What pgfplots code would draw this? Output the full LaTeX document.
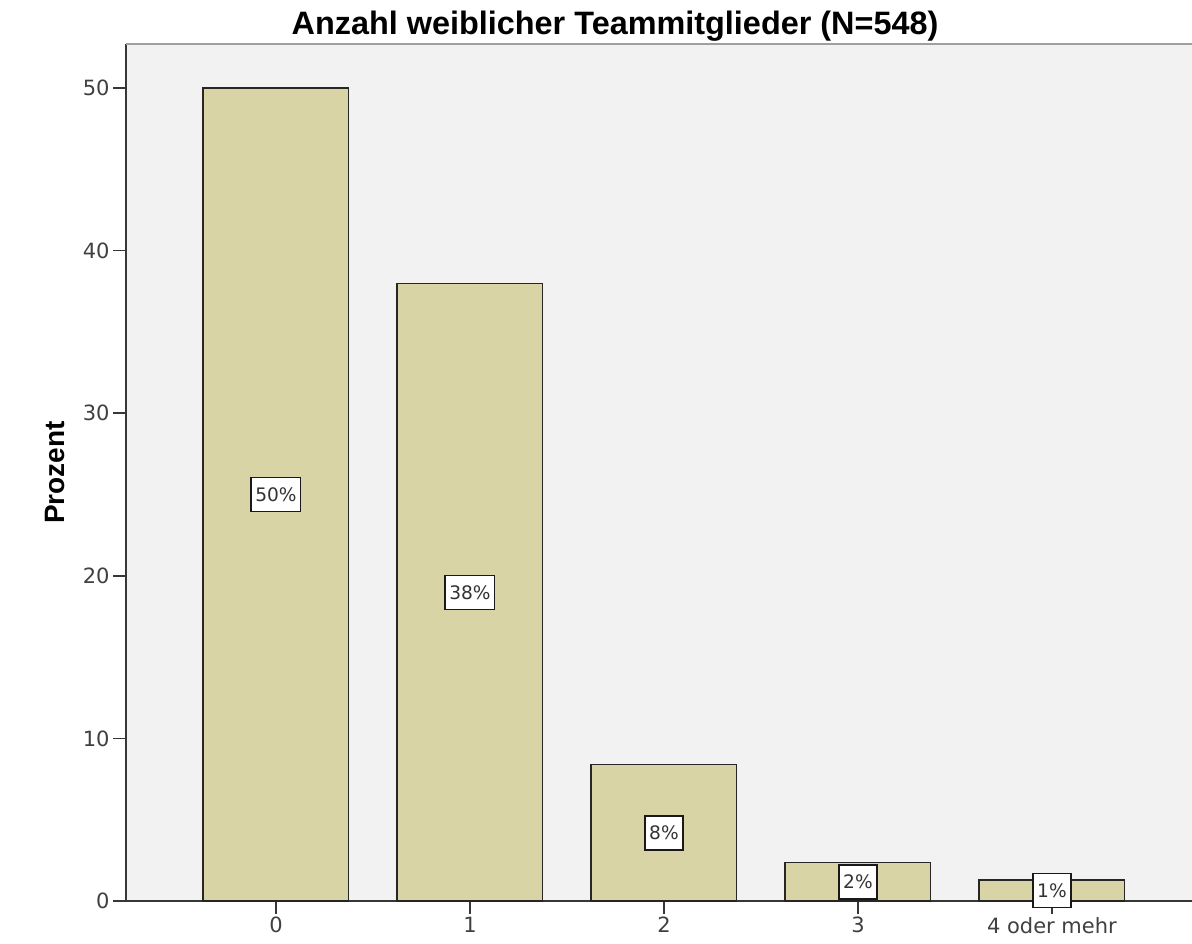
\documentclass[border=0pt]{standalone}
\usepackage{pgfplots}
\usepackage{pgfplotstable}
\pgfplotsset{compat=1.18}
\usepackage{fontspec}
\setmainfont{DejaVu Sans}
\newfontfamily\titlefont{Liberation Sans}
\definecolor{bg}{RGB}{242,242,242}
\definecolor{barfill}{RGB}{217,212,165}
\definecolor{axisgray}{RGB}{55,55,55}
\pgfplotstableread{
x y p
0 50.00 50
1 37.96 38
2 8.39 8
3 2.37 2
4 1.28 1
}\datatable
\begin{document}
\begin{tikzpicture}
\useasboundingbox (0,0) rectangle (596pt,471.5pt);
\begin{axis}[
  at={(63pt,21pt)}, anchor=south west,
  scale only axis, width=533pt, height=428.5pt,
  xmin=-0.773, xmax=4.722, ymin=0, ymax=52.7,
  axis x line*=bottom, axis y line*=left,
  axis line style={axisgray, line width=1pt},
  axis background/.style={fill=bg},
  ytick={0,10,...,50},
  xtick={0,...,4}, xticklabels={0,1,2,3,4 oder mehr},
  tick style={axisgray, line width=0.8pt},
  tick align=outside, major tick length=6.5pt,
  tick label style={font=\fontsize{10.5}{12}\selectfont, text=black!75, inner sep=1.5pt},
  /pgf/number format/assume math mode=true,
  ylabel={Prozent},
  ylabel style={font=\titlefont\bfseries\fontsize{14}{16}\selectfont, at={(axis description cs:-0.0666,0.5)}, anchor=center},
  clip=false,
]
\draw[gray!75, line width=1pt] (rel axis cs:0,1) -- (rel axis cs:1,1);
\addplot[ybar, bar width=0.75, fill=barfill, draw=black!85, line width=0.75pt] table[x=x, y=y] {\datatable};
\addplot[draw=none, mark=none,
  point meta=\thisrow{p},
  nodes near coords={\pgfmathprintnumber[fixed,precision=0]{\pgfplotspointmeta}\%},
  nodes near coords style={anchor=center, draw=black!90, fill=white, line width=0.8pt, inner xsep=2pt, minimum height=17pt, font=\fontsize{9.3}{10}\selectfont, text=black!80},
] table[x=x, y expr=\thisrow{y}/2] {\datatable};
\end{axis}
\node[font=\titlefont\bfseries\fontsize{16.2}{19}\selectfont, anchor=base] at (307.5pt,454.2pt) {Anzahl weiblicher Teammitglieder (N=548)};
\end{tikzpicture}
\end{document}
